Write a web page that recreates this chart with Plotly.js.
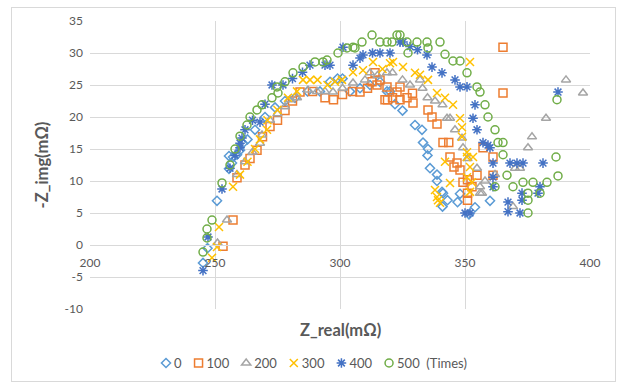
<!DOCTYPE html>
<html>
<head>
<meta charset="utf-8">
<script src="https://cdn.plot.ly/plotly-3.0.1.min.js"></script>
<style>
html,body{margin:0;padding:0;background:#fff;}
#frame{position:absolute;left:11px;top:7px;width:603px;height:373px;border:1px solid #d9d9d9;}
#chart{position:absolute;left:0;top:0;width:617px;height:382px;}
</style>
</head>
<body>
<div id="frame"></div>
<div id="chart"></div>
<script>
const seriesNames = ['0', '100', '200', '300', '400', '500\u00a0\u00a0(Times)'];

const x0 = [245.2,247,250.8,255.6,256.8,257.2,255.6,258.8,260,261.2,263,266,270,274,278,282,287,292,296,299,301,304,308,312,316,318.8,320,322,325,330,332.8,333.2,335.2,335,336,338.8,338.8,340.8,341,341.2,343,347,348,351.6,354,360];
const y0 = [-2.8,-0.5,6.9,11.9,12.8,13.75,13.9,14.1,14.8,15.9,16.5,18,20,21.5,22.5,23,24,24,25.5,26,26,24,24.5,25,25.5,24,24,22,21,18.75,18,16,15,14,12,11,10,8.3,6,8.1,7,6.7,8,4.8,5.9,6.9];

const x100 = [253.2,257.2,258.8,262,264,266.8,269,272,275,278,281,284,289,294,297.4,301,305,308,311,312.8,314,314.8,316,318,319,318.8,321,322.8,324,324,326.8,329,329.2,335.2,336.8,338.8,341.2,343.5,344,345.6,346.8,348,349.2,351,351,352.8,351,354.8,357.2,361.2,361.2,365.2,365.2];
const y100 = [-0.2,3.9,10.5,12.5,13.5,14.8,16.9,18.5,19.5,21,22.5,23.9,24,23,22.7,23.5,24,23.9,24.5,25.5,26.9,25,25.8,22.7,22.7,24.7,23,23.9,22.7,24.7,23,23.7,22.2,21.1,20,18.9,16,16,13.75,12.2,12.8,11.7,9.8,10.2,8.1,9.1,7,10.9,15.2,13.75,10.9,23.75,30.9];

const x200 = [251,254.8,258.8,262,265,268,268.8,272,275,278,280,282.8,287.2,290.8,294,297.2,301,305.2,310,312,315,318.8,321,325,328,332,333,335,338,341,342.8,344,346,348.8,349.2,351,354.8,356,356,356.8,358,362,369.2,370,372,375.2,376.8,382.4,390.4,397.2];
const y200 = [0.3,3.9,11,13,14.5,15.9,17.2,19.5,20.5,21.6,22.7,23,24.2,24,24,23.9,24.5,25.3,25.8,26.9,26.5,26.9,26.9,25.8,25,25.8,24.5,23,22.5,21.9,19.8,19.8,18,16.7,15.2,13.5,12,9.1,8.1,8.1,10,11,6,12,12,15.2,16.9,19.8,25.8,23.75];

const x300 = [248.8,250.8,251.6,257.2,260,263,266,268,270.8,271,275,279.2,282.8,285.2,288,291,295,298,300.8,305.2,309.2,313.2,317,320,321.2,325.2,330,332,335.2,338.8,342,345.2,348,348.8,348.8,350.8,353.2,342,344,338,339.2,340,338.8,350.8,352,350.8,352.8,352,352];
const y300 = [-2,-0.3,2.8,9.1,11,13,15,16.5,18,19.5,21.1,23,24,25.8,25.8,25.8,25,25.5,25.8,27,27.3,28.6,27.5,28.4,28.6,27.8,26.9,26.6,25.8,23.75,23,21.9,19.8,18.4,16.9,14.5,13.75,13,9.7,8.6,7,6.6,7.5,13.75,12.2,10.6,9.8,8.3,28.6];

const x400 = [245.2,247.2,252.8,256,258,260,260,260.8,262,265,268,270,272.8,277.2,281,285,288,294,296,301.2,305.2,308,309.2,313,316,320,324,325.2,328,331,334.8,336.8,340.8,346,348,350.8,354,353.2,354.8,357.2,359.2,360,361.2,361.2,361.2,367.2,367.2,372,368,370.8,373.2,372.8,372.8,379.2,380,381.2,387.2,350,352];
const y400 = [-4,1.25,8.75,12,14,15.2,15.9,16.7,18,19.5,19.2,22,25,25,26,27,28.1,28.1,28.1,30.9,28.1,29.2,29.7,30,30,30,31.7,31.7,31,30.5,29.7,27.8,26.9,25.8,24.7,24.7,21.9,19.8,18,16,15.6,15.2,12.8,10.6,9.1,6.7,5.2,5,12.8,12.8,12.8,8.1,7,8.1,9.1,12.8,23.9,5,5];

const x500 = [245.2,246.8,246.8,248.8,252.8,256,258,260,262.8,264,266.8,268.8,272.8,275.2,274.8,278,281.2,285.2,290,293.2,294.8,299.2,302.8,305.2,306,308.8,312.8,316,318.8,320.8,322.8,324,326.8,327.2,330.8,334.8,335.2,340,342,345.2,348,350.8,354.8,356,358,359.2,362,363.2,365.2,365.2,366.8,362,369.2,373.2,377.2,375.2,375.2,375.2,380,382.8,387.2,386.4,386.8];
const y500 = [-1.1,1.1,2.5,3.9,9.7,12.5,15,17,18.75,20,21.1,21.9,23,23.75,24.7,25.5,26.9,27.8,28.6,28.6,28.9,30,30.8,30.9,30.8,31.7,32.8,31.7,31.7,31.7,32.8,32.8,31.7,30,31.7,31.7,30.8,31.7,29.8,28.75,28.75,26.9,24.7,23.9,21.9,20,18,16,16,14.1,10.9,9.1,9.1,9.8,9.8,8.1,7,5,8.1,9.8,10.8,13.75,22.7];

const xTicks = [200, 250, 300, 350, 400];
const yTicks = [-10, -5, 0, 5, 10, 15, 20, 25, 30, 35];

const colors = ['#5B9BD5', '#ED7D31', '#A5A5A5', '#FFC000', '#4472C4', '#70AD47'];
const symbols = ['diamond-open', 'square-open', 'triangle-up-open', 'x-thin-open', 'asterisk-open', 'circle-open'];
const sizes = [7, 8, 8, 8, 8, 8];
const xs = [x0, x100, x200, x300, x400, x500];
const ys = [y0, y100, y200, y300, y400, y500];

const traces = seriesNames.map((n, i) => ({
  type: 'scatter', mode: 'markers', name: n,
  x: xs[i], y: ys[i],
  marker: {symbol: symbols[i], size: sizes[i], color: colors[i], line: {color: colors[i], width: 1.5}}
}));

const font = 'Lato, "Open Sans", "DejaVu Sans", sans-serif';
const layout = {
  width: 617, height: 382,
  margin: {l: 90, r: 27, t: 21, b: 73, autoexpand: false},
  paper_bgcolor: 'rgba(0,0,0,0)', plot_bgcolor: '#ffffff',
  font: {family: font, color: '#595959', size: 12},
  showlegend: true,
  legend: {orientation: 'h', x: 0.44, xanchor: 'center', y: -0.188, yanchor: 'middle',
    font: {size: 13, color: '#595959'}, itemwidth: 30, tracegroupgap: 0},
  xaxis: {range: [200, 400], tickvals: xTicks, ticktext: xTicks.map(String),
    showgrid: true, gridcolor: '#d9d9d9', gridwidth: 1, zeroline: false,
    showline: true, linecolor: '#d9d9d9', linewidth: 1, ticks: '',
    anchor: 'free', position: 10/45, ticklabelstandoff: 7,
    tickfont: {size: 12, color: '#595959'}},
  yaxis: {range: [-10, 35], tickvals: yTicks, ticktext: yTicks.map(String),
    showgrid: true, gridcolor: '#d9d9d9', gridwidth: 1, zeroline: false,
    showline: false, ticks: '', ticklabelstandoff: 6,
    tickfont: {size: 12, color: '#595959'},
    title: {text: '-Z_img(mΩ)', standoff: 11, font: {size: 16.5, color: '#595959', weight: 'bold'}}},
  annotations: [{xref: 'paper', yref: 'paper', x: 0.5, y: -0.03, yanchor: 'top', showarrow: false,
    text: 'Z_real(mΩ)', font: {size: 16.5, color: '#595959', weight: 'bold', family: font}}]
};

function parseT(s) {
  const m = /translate\(\s*([-\d.e]+)[\s,]*([-\d.e]+)?\s*\)/.exec(s || '');
  return m ? [parseFloat(m[1]), parseFloat(m[2] || 0)] : [0, 0];
}

Plotly.newPlot('chart', traces, layout, {staticPlot: true, displayModeBar: false}).then(gd => {
  const leg = gd.querySelector('g.legend');
  if (!leg) return;
  leg.querySelectorAll('[clip-path]').forEach(e => e.removeAttribute('clip-path'));
  const items = Array.from(leg.querySelectorAll('g.traces'));
  let x = 0, yRow = null;
  items.forEach(g => {
    const t = g.querySelector('text.legendtext');
    t.setAttribute('x', 28);
    t.querySelectorAll('tspan').forEach(s => { if (s.hasAttribute('x')) s.setAttribute('x', 28); });
    const w = t.getComputedTextLength();
    const [, ty] = parseT(g.getAttribute('transform'));
    if (yRow === null) yRow = ty;
    g.setAttribute('transform', 'translate(' + x + ',' + yRow + ')');
    x += w + 25;
  });
  const p = items[0].querySelector('path.scatterpts');
  if (!p) return;
  const r = p.getBoundingClientRect();
  const cx = r.left + r.width / 2, cy = r.top + r.height / 2;
  const [lx, ly] = parseT(leg.getAttribute('transform'));
  leg.setAttribute('transform', 'translate(' + (lx + 166 - cx) + ',' + (ly + 363 - cy) + ')');
});
</script>
</body>
</html>
